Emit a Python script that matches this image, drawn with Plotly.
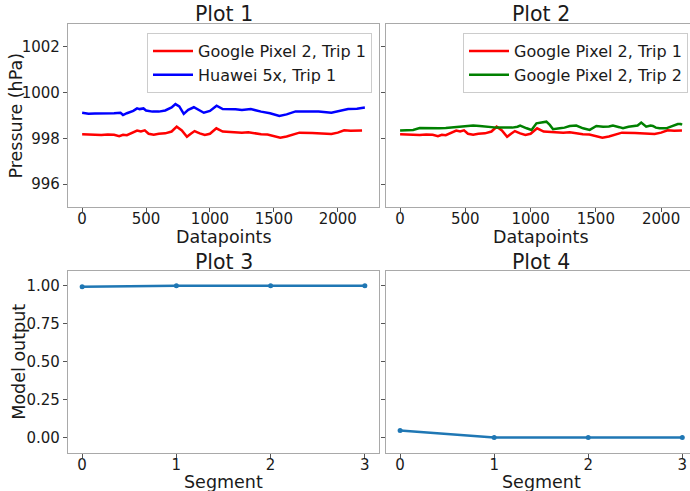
import plotly.graph_objects as go

# ---- data ----
pixel_trip1_x = [0, 50, 100, 150, 200, 250, 290, 320, 350, 400, 430, 460, 490, 520, 560, 600, 650,
                 700, 740, 780, 820, 850, 880, 920, 960, 1000, 1050, 1100, 1150, 1200, 1250, 1300,
                 1350, 1400, 1450, 1500, 1550, 1600, 1650, 1700, 1800, 1900, 1950, 2000, 2050, 2100,
                 2150, 2160, 2190]
pixel_trip1_y = [998.18, 998.16, 998.17, 998.15, 998.17, 998.16, 998.10, 998.16, 998.14, 998.28,
                 998.34, 998.30, 998.35, 998.20, 998.16, 998.20, 998.22, 998.30, 998.51, 998.35,
                 998.07, 998.20, 998.32, 998.22, 998.15, 998.20, 998.44, 998.30, 998.28, 998.27,
                 998.25, 998.27, 998.22, 998.18, 998.17, 998.10, 998.03, 998.08, 998.18, 998.25,
                 998.24, 998.22, 998.19, 998.25, 998.35, 998.33, 998.35, 998.34, 998.34]

huawei_trip1_x = [0, 50, 100, 150, 200, 250, 300, 320, 350, 400, 430, 450, 480, 500, 550, 600, 650,
                  700, 730, 760, 795, 830, 874, 910, 952, 1000, 1052, 1100, 1150, 1200, 1250, 1320,
                  1400, 1470, 1543, 1600, 1670, 1750, 1850, 1950, 2000, 2081, 2150, 2212]
huawei_trip1_y = [999.12, 999.08, 999.09, 999.09, 999.07, 999.10, 999.12, 999.02, 999.10, 999.20,
                  999.31, 999.28, 999.31, 999.22, 999.17, 999.17, 999.22, 999.35, 999.50, 999.40,
                  999.07, 999.25, 999.36, 999.26, 999.12, 999.20, 999.43, 999.28, 999.28, 999.27,
                  999.24, 999.28, 999.17, 999.10, 998.98, 999.05, 999.18, 999.19, 999.17, 999.12,
                  999.18, 999.28, 999.30, 999.35]

pixel_trip2_x = [0, 50, 100, 150, 200, 250, 300, 350, 400, 450, 500, 560, 610, 660, 700, 740, 800,
                 860, 900, 920, 970, 1007, 1045, 1096, 1121, 1147, 1172, 1223, 1260, 1300, 1350,
                 1402, 1453, 1504, 1555, 1600, 1631, 1680, 1708, 1750, 1784, 1820, 1848, 1886,
                 1920, 1937, 1960, 1988, 2039, 2060, 2090, 2128, 2150, 2160]
pixel_trip2_y = [998.34, 998.35, 998.37, 998.45, 998.44, 998.45, 998.44, 998.45, 998.47, 998.51,
                 998.53, 998.56, 998.54, 998.51, 998.49, 998.47, 998.47, 998.47, 998.51, 998.56,
                 998.44, 998.37, 998.66, 998.69, 998.73, 998.59, 998.40, 998.44, 998.47, 998.54,
                 998.56, 998.44, 998.37, 998.54, 998.51, 998.52, 998.56, 998.49, 998.44, 998.51,
                 998.54, 998.56, 998.69, 998.51, 998.56, 998.54, 998.47, 998.44, 998.44, 998.49,
                 998.54, 998.63, 998.63, 998.59]

segments = [0, 1, 2, 3]
model_output_plot3 = [0.995, 1.0, 1.0, 1.0]
model_output_plot4 = [0.046, 0.0, 0.0, 0.0]

plot_titles = ["Plot 1", "Plot 2", "Plot 3", "Plot 4"]
x_titles = ["Datapoints", "Datapoints", "Segment", "Segment"]
y_titles = ["Pressure (hPa)", "Model output"]

# plot 2 uses trip 1 truncated to the length of trip 2
p2_len = max(pixel_trip2_x)
trip1_cut = [(x, y) for x, y in zip(pixel_trip1_x, pixel_trip1_y) if x <= p2_len]
trip1_cut_x = [p[0] for p in trip1_cut]
trip1_cut_y = [p[1] for p in trip1_cut]

FONT = "DejaVu Sans"
TXT = "#1a1a1a"
SPINE = "#a9a9a9"
TICK_SIZE = 15
AXT_SIZE = 17.5

fig = go.Figure()
fig.add_trace(go.Scatter(x=pixel_trip1_x, y=pixel_trip1_y, mode="lines", name="Google Pixel 2, Trip 1",
                         line=dict(color="#ff0000", width=2.5), xaxis="x", yaxis="y", legend="legend"))
fig.add_trace(go.Scatter(x=huawei_trip1_x, y=huawei_trip1_y, mode="lines", name="Huawei 5x, Trip 1",
                         line=dict(color="#0000ff", width=2.5), xaxis="x", yaxis="y", legend="legend"))
fig.add_trace(go.Scatter(x=trip1_cut_x, y=trip1_cut_y, mode="lines", name="Google Pixel 2, Trip 1",
                         line=dict(color="#ff0000", width=2.5), xaxis="x2", yaxis="y2", legend="legend2"))
fig.add_trace(go.Scatter(x=pixel_trip2_x, y=pixel_trip2_y, mode="lines", name="Google Pixel 2, Trip 2",
                         line=dict(color="#008000", width=2.5), xaxis="x2", yaxis="y2", legend="legend2"))
fig.add_trace(go.Scatter(x=segments, y=model_output_plot3, mode="lines+markers", showlegend=False,
                         line=dict(color="#1f77b4", width=2.5), marker=dict(size=5, color="#1f77b4"),
                         xaxis="x3", yaxis="y3"))
fig.add_trace(go.Scatter(x=segments, y=model_output_plot4, mode="lines+markers", showlegend=False,
                         line=dict(color="#1f77b4", width=2.5), marker=dict(size=5, color="#1f77b4"),
                         xaxis="x4", yaxis="y4"))

W, H = 690, 491
def px_x(p):
    return p / W
def px_y(p):
    return (H - p) / H

left_dom = [px_x(68), px_x(379)]
right_dom = [px_x(386), 1.0]
top_dom = [px_y(207), px_y(24)]
bot_dom = [px_y(452.7), px_y(270.7)]

def axis(**kw):
    base = dict(showline=True, linecolor=SPINE, linewidth=1.2, ticks="outside", ticklen=4,
                tickwidth=1, tickcolor="#555555", showgrid=False, zeroline=False,
                tickfont=dict(family=FONT, size=TICK_SIZE, color=TXT))
    base.update(kw)
    return base

XSO = -6  # pull x tick labels up toward the axis

leg = dict(yanchor="top", xanchor="right", bgcolor="white", bordercolor="#cccccc", borderwidth=1,
           font=dict(family=FONT, size=16, color=TXT), tracegroupgap=0, itemwidth=40)

fig.update_layout(
    width=W, height=H, margin=dict(l=0, r=0, t=0, b=0),
    paper_bgcolor="white", plot_bgcolor="white",
    font=dict(family=FONT, color=TXT),
    xaxis=axis(domain=left_dom, anchor="y", range=[-110.6, 2322.6], tickvals=[0, 500, 1000, 1500, 2000],
               mirror=True, ticklabelstandoff=XSO),
    yaxis=axis(domain=top_dom, anchor="x", range=[995, 1003], tickvals=[996, 998, 1000, 1002],
               mirror=True),
    xaxis2=axis(domain=right_dom, anchor="y2", range=[-108, 2221.5], tickvals=[0, 500, 1000, 1500, 2000],
                mirror=True, ticklabelstandoff=XSO),
    yaxis2=axis(domain=top_dom, anchor="x2", range=[995, 1003], tickvals=[996, 998, 1000, 1002],
                showticklabels=False, mirror=False),
    xaxis3=axis(domain=left_dom, anchor="y3", range=[-0.15, 3.15], tickvals=segments, mirror=True,
                ticklabelstandoff=XSO),
    yaxis3=axis(domain=bot_dom, anchor="x3", range=[-0.1, 1.1], tickvals=[0, 0.25, 0.5, 0.75, 1.0],
                tickformat=".2f", mirror=True),
    xaxis4=axis(domain=right_dom, anchor="y4", range=[-0.15, 3.082], tickvals=segments, mirror=True,
                ticklabelstandoff=XSO),
    yaxis4=axis(domain=bot_dom, anchor="x4", range=[-0.1, 1.1], tickvals=[0, 0.25, 0.5, 0.75, 1.0],
                showticklabels=False, mirror=False),
    legend=dict(leg, x=px_x(372), y=px_y(33)),
    legend2=dict(leg, x=px_x(688), y=px_y(33)),
)

def ann(text, cx, cy, size, angle=0):
    fig.add_annotation(text=text, x=px_x(cx), y=px_y(cy), xref="paper", yref="paper",
                       showarrow=False, xanchor="center", yanchor="middle", textangle=angle,
                       font=dict(family=FONT, size=size, color=TXT))

left_c = (68 + 379) / 2
right_c = (386 + 696) / 2
# subplot titles
for t, (cx, cy) in zip(plot_titles, [(left_c, 13.5), (right_c, 13.5), (left_c, 261.5), (right_c, 261.5)]):
    ann(t, cx, cy, 20.5)
# x axis titles
for t, (cx, cy) in zip(x_titles, [(left_c, 237.5), (right_c, 237.5), (left_c, 481.5), (right_c, 481.5)]):
    ann(t, cx, cy, AXT_SIZE)
# y axis titles
ann(y_titles[0], 15, (24 + 207) / 2, AXT_SIZE, -90)
ann(y_titles[1], 19, (270.7 + 452.7) / 2, AXT_SIZE, -90)

fig.write_html("out.html")
